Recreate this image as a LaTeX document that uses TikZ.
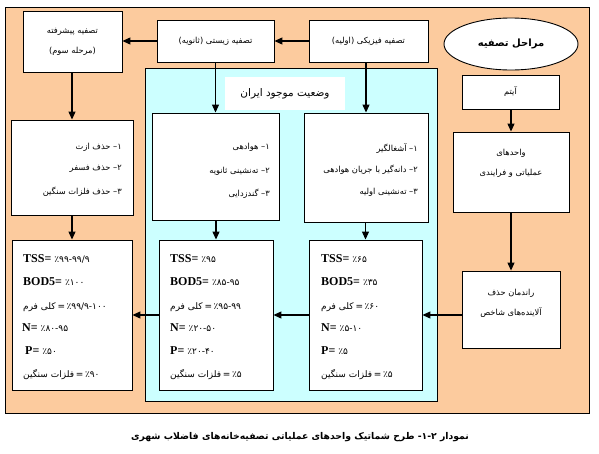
\documentclass[tikz,border=0pt]{standalone}
\usepackage{fontspec}
\setmainfont{Liberation Serif}
\newfontfamily\fa[Script=Arabic]{DejaVu Sans}
\TeXXeTstate=1
\usetikzlibrary{arrows.meta,shapes.geometric}
\definecolor{peach}{RGB}{252,203,158}
\definecolor{lcyan}{RGB}{204,255,255}
\newcommand\fanum[1]{{\fa\mdseries\fontsize{9}{10}\selectfont #1}}
\begin{document}
\begin{tikzpicture}[x=1pt,y=-1pt,
  box/.style={draw=black,fill=white,line width=0.9pt,inner sep=0pt},
  arr/.style={draw=black,line width=1.1pt,-{Triangle[length=8pt,width=7pt]}},
  fs/.style={font=\fa\fontsize{8.3}{10}\selectfont,inner sep=0pt},
  st/.style={font=\fontsize{12}{14}\selectfont\bfseries,inner sep=0pt,anchor=base west},
  sn/.style={inner sep=0pt,anchor=base west}]
\useasboundingbox (0,0) rectangle (599,453);
\fill[white] (0,0) rectangle (599,453);
\draw[fill=peach,line width=0.8pt] (5,7) rectangle (589,413);
\draw[fill=lcyan,line width=0.7pt] (145,68) rectangle (437,401);

% top row
\node[box,minimum width=99,minimum height=61] (adv) at (72.5,41.5) {};
\node[fs,align=center] (advt) at (72.5,42) {\beginR تصفیه پیشرفته\endR\\[10pt]\beginR (مرحله سوم)\endR};
\node[box,minimum width=117,minimum height=42,font=\fa\fontsize{8.3}{10}\selectfont] (bio) at (215.5,41) {\beginR تصفیه زیستی (ثانویه)\endR};
\node[box,minimum width=119,minimum height=42,font=\fa\fontsize{8.3}{10}\selectfont] (phy) at (368.5,41) {\beginR تصفیه فیزیکی (اولیه)\endR};
\node[draw=black,fill=white,line width=0.9pt,ellipse,minimum width=134,minimum height=52,inner sep=0pt] (ell) at (511,44) {\fa\bfseries\fontsize{10}{12}\selectfont\beginR مراحل تصفیه\endR};

% right column
\node[box,minimum width=97,minimum height=34,font=\fa\fontsize{8.3}{10}\selectfont] (item) at (510.5,92) {\beginR آیتم\endR};
\node[box,minimum width=116,minimum height=80] (units) at (511,172) {};
\node[fs,align=center] (unitst) at (511,163) {\beginR واحدهای\endR\\[10pt]\beginR عملیاتی و فرایندی\endR};
\node[box,minimum width=98,minimum height=77] (remov) at (511,309.5) {};
\node[fs,align=center] (removt) at (511,303) {\beginR راندمان حذف\endR\\[10pt]\beginR آلاینده‌های شاخص\endR};

% title of cyan region
\node[fill=white,minimum width=120,minimum height=33,inner sep=0pt] (ttl) at (285,93.5) {\fa\fontsize{10.5}{12}\selectfont\beginR وضعیت موجود ایران\endR};

% middle boxes
\node[box,minimum width=122,minimum height=95] (lb1) at (72,167.5) {};
\node[fs,anchor=east] (lb1a) at (122,147) {\beginR ۱– حذف ازت\endR};
\node[fs,anchor=east] (lb1b) at (122,169) {\beginR ۲– حذف فسفر\endR};
\node[fs,anchor=east] (lb1c) at (122,192) {\beginR ۳– حذف فلزات سنگین\endR};

\node[box,minimum width=127,minimum height=107] (ml) at (215.5,166.5) {};
\node[fs,anchor=east] (mla) at (270,147) {\beginR ۱– هوادهی\endR};
\node[fs,anchor=east] (mlb) at (270,171) {\beginR ۲– ته‌نشینی ثانویه\endR};
\node[fs,anchor=east] (mlc) at (270,194) {\beginR ۳– گندزدایی\endR};

\node[box,minimum width=124,minimum height=109] (mr) at (366,167.5) {};
\node[fs,anchor=east] (mra) at (418,149) {\beginR ۱– آشغالگیر\endR};
\node[fs,anchor=east] (mrb) at (418,170) {\beginR ۲– دانه‌گیر با جریان هوادهی\endR};
\node[fs,anchor=east] (mrc) at (418,192) {\beginR ۳– ته‌نشینی اولیه\endR};

% bottom boxes
\node[box,minimum width=120,minimum height=150] (bl) at (72,315) {};
\node[st] (bl1) at (23,262) {TSS= \fanum{٪۹۹-۹۹/۹}};
\node[st] (bl2) at (23,285.5) {BOD5= \fanum{٪۱۰۰}};
\node[sn] (bl3) at (23,309) {\fanum{\beginR کلی فرم\endR}};
\node[sn] (bl3n) at (bl3.base east) {\fanum{\,=\,٪۹۹/۹-۱۰۰}};
\node[st] (bl4) at (22,331.5) {N= \fanum{٪۸۰-۹۵}};
\node[st] (bl5) at (25,354) {P= \fanum{٪۵۰}};
\node[sn] (bl6) at (23,377) {\fanum{\beginR فلزات سنگین\endR}};
\node[sn] (bl6n) at (bl6.base east) {\fanum{\,=\,٪۹۰}};

\node[box,minimum width=114,minimum height=150] (bm) at (216,315) {};
\node[st] (bm1) at (170,262) {TSS= \fanum{٪۹۵}};
\node[st] (bm2) at (170,285.5) {BOD5= \fanum{٪۸۵-۹۵}};
\node[sn] (bm3) at (170,309) {\fanum{\beginR کلی فرم\endR}};
\node[sn] (bm3n) at (bm3.base east) {\fanum{\,=\,٪۹۵-۹۹}};
\node[st] (bm4) at (170,331.5) {N= \fanum{٪۲۰-۵۰}};
\node[st] (bm5) at (170,354) {P= \fanum{٪۲۰-۴۰}};
\node[sn] (bm6) at (170,377) {\fanum{\beginR فلزات سنگین\endR}};
\node[sn] (bm6n) at (bm6.base east) {\fanum{\,=\,٪۵}};

\node[box,minimum width=113,minimum height=150] (br) at (365.5,315) {};
\node[st] (br1) at (321,262) {TSS= \fanum{٪۶۵}};
\node[st] (br2) at (321,285.5) {BOD5= \fanum{٪۳۵}};
\node[sn] (br3) at (321,309) {\fanum{\beginR کلی فرم\endR}};
\node[sn] (br3n) at (br3.base east) {\fanum{\,=\,٪۶۰}};
\node[st] (br4) at (321,331.5) {N= \fanum{٪۵-۱۰}};
\node[st] (br5) at (321,354) {P= \fanum{٪۵}};
\node[sn] (br6) at (321,377) {\fanum{\beginR فلزات سنگین\endR}};
\node[sn] (br6n) at (br6.base east) {\fanum{\,=\,٪۵}};

% caption
\node[font=\fa\bfseries\fontsize{9.3}{11}\selectfont,inner sep=0pt] (cap) at (300,437) {\beginR نمودار ۲\kern0pt-\kern0pt۱\kern0pt- طرح شماتیک واحدهای عملیاتی تصفیه‌خانه‌های فاضلاب شهری\endR};

% arrows
\draw[arr] (phy.west) -- (bio.east);
\draw[arr] (bio.west) -- (adv.east |- bio.west);
\draw[arr] (lb1.north |- adv.south) -- (lb1.north);
\draw[arr] (lb1.south) -- (bl.north);
\draw[arr] (ml.north |- bio.south) -- (ml.north);
\draw[arr] (mr.north |- phy.south) -- (mr.north);
\draw[arr] (bm.north |- ml.south) -- (bm.north);
\draw[arr] (br.north |- mr.south) -- (br.north);
\draw[arr] (units.north |- item.south) -- (units.north);
\draw[arr] (units.south) -- (remov.north);
\draw[arr] (br.east -| remov.west) -- (br.east);
\draw[arr] (br.west) -- (bm.east);
\draw[arr] (bm.west) -- (bl.east |- bm.west);
\end{tikzpicture}
\end{document}
